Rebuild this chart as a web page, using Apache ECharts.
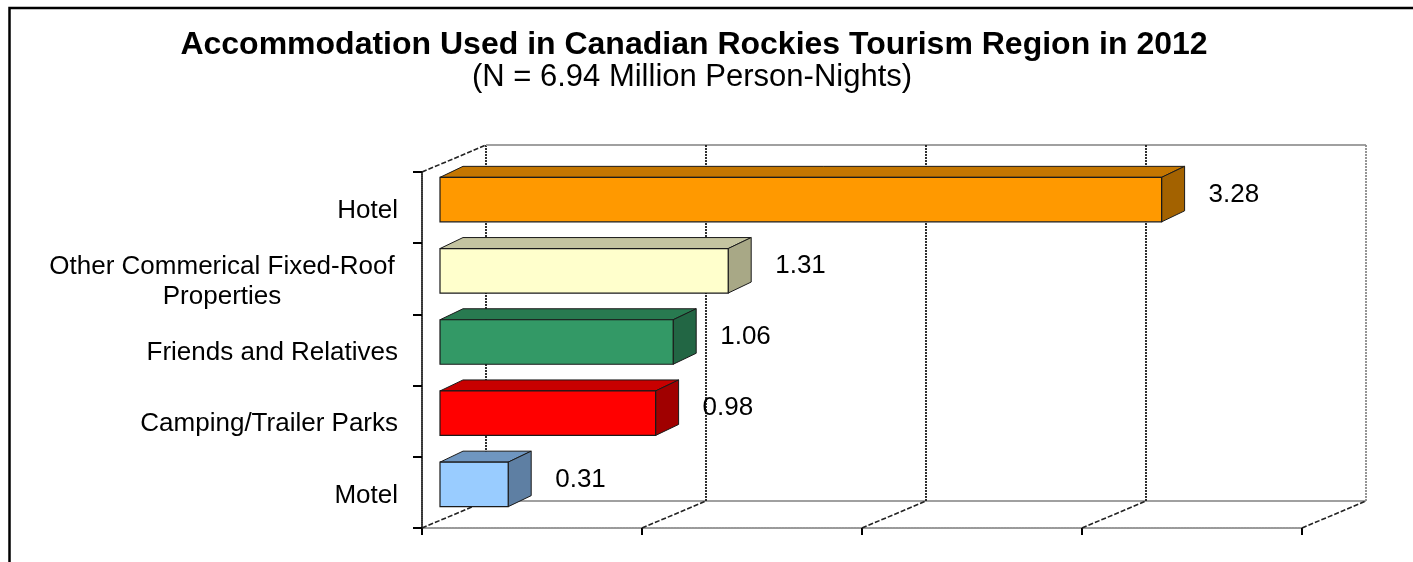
<!DOCTYPE html>
<html>
<head>
<meta charset="utf-8">
<script src="https://cdn.jsdelivr.net/npm/echarts@6/dist/echarts.min.js"></script>
<style>
html,body{margin:0;padding:0;background:#fff;}
#chart{width:1413px;height:562px;}
</style>
</head>
<body>
<div id="chart"></div>
<script>
// ---- data ----
const titleText = 'Accommodation Used in Canadian Rockies Tourism Region in 2012';
const subtitleText = '(N = 6.94 Million Person-Nights)';
const categories = ['Hotel', 'Other Commerical Fixed-Roof Properties', 'Friends and Relatives', 'Camping/Trailer Parks', 'Motel'];
const values = [3.28, 1.31, 1.06, 0.98, 0.31];
const xTicks = [0, 1, 2, 3, 4];

// ---- styles ----
const frontColors = ['#FF9900', '#FFFFCC', '#339966', '#FF0000', '#99CCFF'];
const topColors   = ['#C47600', '#C4C4A0', '#287A50', '#C80000', '#6F96C0'];
const sideColors  = ['#A36200', '#A8A886', '#226644', '#A00000', '#5E7FA3'];
const FONT = '"Liberation Sans", Arial, Helvetica, sans-serif';

// 3D projection constants (pixels)
const WALL_DX = 64, WALL_DY = -27;     // full depth of the plot box
const BAR_OX = 18, BAR_OY = -8;        // front face of the bars inside the box
const BAR_DX = 23, BAR_DY = -11;       // depth of each bar
const BAR_H_RATIO = 0.625;             // bar height as share of the band

function wrapLabel(s) {
  if (s.length <= 28) return s;
  const idx = s.lastIndexOf(' ');
  return '{c|' + s.slice(0, idx) + '}\n{c|' + s.slice(idx + 1) + '}';
}

const chart = echarts.init(document.getElementById('chart'));

const option = {
  backgroundColor: '#ffffff',
  animation: false,
  graphic: [
    {
      type: 'rect',
      shape: { x: 9.5, y: 8, width: 1500, height: 700 },
      style: { fill: 'none', stroke: '#000', lineWidth: 2.5 },
      silent: true
    },
    {
      type: 'text', x: 694, y: 45,
      style: { text: titleText, fill: '#000', font: 'bold 32px ' + FONT, textAlign: 'center', textVerticalAlign: 'middle' }
    },
    {
      type: 'text', x: 692, y: 77,
      style: { text: subtitleText, fill: '#000', font: '31px ' + FONT, textAlign: 'center', textVerticalAlign: 'middle' }
    }
  ],
  grid: { left: 422, right: 111, top: 172, bottom: 34, containLabel: false },
  xAxis: {
    type: 'value',
    min: 0, max: 4, interval: 1,
    axisLabel: { show: false },
    splitLine: { show: false },
    axisLine: { show: true, lineStyle: { color: '#9a9a9a', width: 2, type: [2, 1] } },
    axisTick: { show: true, length: 7, lineStyle: { color: '#000', width: 2 } }
  },
  yAxis: {
    type: 'category',
    data: categories,
    inverse: true,
    axisLine: { show: true, lineStyle: { color: '#333', width: 2, type: [1, 1] } },
    axisTick: { show: true, length: 9, lineStyle: { color: '#000', width: 2 } },
    splitLine: { show: false },
    axisLabel: {
      margin: 24,
      color: '#000',
      fontFamily: FONT,
      fontSize: 26,
      lineHeight: 30,
      padding: [6, 0, 0, 0],
      formatter: wrapLabel,
      rich: { c: { width: 352, align: 'center', fontFamily: FONT, fontSize: 26, lineHeight: 30, color: '#000' } }
    }
  },
  series: [
    {
      type: 'custom',
      name: 'walls',
      z: 1,
      silent: true,
      data: xTicks.map(t => [t, 0]),
      renderItem: function (params, api) {
        const cs = params.coordSys;
        const t = api.value(0);
        const X = api.coord([t, 0])[0];
        const top = cs.y, bottom = cs.y + cs.height;
        const children = [];
        const dark = { stroke: '#1a1a1a', lineWidth: 1.8, lineDash: [2, 1] };
        // back-wall gridline
        children.push({ type: 'line', shape: { x1: X + WALL_DX, y1: top + WALL_DY, x2: X + WALL_DX, y2: bottom + WALL_DY },
          style: t === xTicks[xTicks.length - 1] ? { stroke: '#8a8a8a', lineWidth: 1.8, lineDash: [2, 1] } : dark });
        // floor diagonal
        children.push({ type: 'line', shape: { x1: X, y1: bottom, x2: X + WALL_DX, y2: bottom + WALL_DY },
          style: { stroke: '#222', lineWidth: 1.6, lineDash: [5, 2] } });
        if (t === xTicks[0]) {
          // left wall top edge
          children.push({ type: 'line', shape: { x1: X, y1: top, x2: X + WALL_DX, y2: top + WALL_DY },
            style: { stroke: '#222', lineWidth: 1.6, lineDash: [5, 2] } });
          // back wall top and bottom edges
          children.push({ type: 'line', shape: { x1: X + WALL_DX, y1: top + WALL_DY, x2: X + cs.width + WALL_DX, y2: top + WALL_DY },
            style: { stroke: '#a0a0a0', lineWidth: 2 } });
          children.push({ type: 'line', shape: { x1: X + WALL_DX, y1: bottom + WALL_DY, x2: X + cs.width + WALL_DX, y2: bottom + WALL_DY },
            style: { stroke: '#a0a0a0', lineWidth: 2 } });
        }
        return { type: 'group', children: children };
      }
    },
    {
      type: 'custom',
      name: 'Person-Nights (millions)',
      z: 3,
      data: values.map((v, i) => [v, i]),
      renderItem: function (params, api) {
        const v = api.value(0);
        const ci = api.value(1);
        const p0 = api.coord([0, ci]);
        const p1 = api.coord([v, ci]);
        const band = api.size([0, 1])[1];
        const h = band * BAR_H_RATIO;
        const x0 = p0[0] + BAR_OX, x1 = p1[0] + BAR_OX;
        const yc = p0[1] + BAR_OY;
        const yT = yc - h / 2, yB = yc + h / 2;
        const edge = '#1a1a1a';
        return {
          type: 'group',
          children: [
            { type: 'polygon', shape: { points: [[x0, yT], [x1, yT], [x1 + BAR_DX, yT + BAR_DY], [x0 + BAR_DX, yT + BAR_DY]] },
              style: { fill: topColors[ci], stroke: edge, lineWidth: 1 } },
            { type: 'polygon', shape: { points: [[x1, yT], [x1 + BAR_DX, yT + BAR_DY], [x1 + BAR_DX, yB + BAR_DY], [x1, yB]] },
              style: { fill: sideColors[ci], stroke: edge, lineWidth: 1 } },
            { type: 'rect', shape: { x: x0, y: yT, width: x1 - x0, height: h },
              style: { fill: frontColors[ci], stroke: edge, lineWidth: 1.2 } },
            { type: 'text', x: x1 + BAR_DX + 24, y: yc - 5,
              style: { text: v.toFixed(2), fill: '#000', font: '26px ' + FONT, textAlign: 'left', textVerticalAlign: 'middle' } }
          ]
        };
      }
    }
  ]
};
chart.setOption(option);
</script>
</body>
</html>
